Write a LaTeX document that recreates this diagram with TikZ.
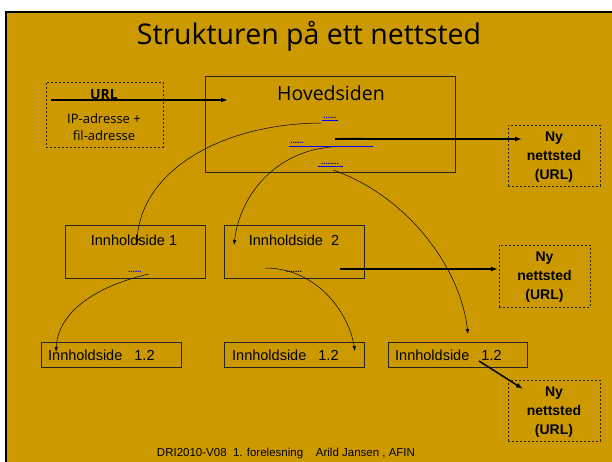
\documentclass[tikz,border=0pt]{standalone}
\usepackage{fontspec}
\setmainfont{Liberation Sans}
\newfontfamily\comic{Open Sans}
\usetikzlibrary{arrows.meta}
\definecolor{slidebg}{RGB}{204,153,0}
\definecolor{linkblue}{RGB}{0,0,255}
\begin{document}
\begin{tikzpicture}[x=1pt,y=-1pt,
  box/.style={draw=black!85, line width=0.8pt, rectangle, inner sep=0pt},
  dbox/.style={draw=black!85, dash pattern=on 2pt off 2pt, line width=0.8pt, rectangle, inner sep=0pt},
  nytxt/.style={inner sep=0pt, align=center, font=\fontsize{14}{19}\selectfont\bfseries},
  itxt/.style={inner sep=0pt, anchor=base, font=\fontsize{14.5}{17}\selectfont},
  stxt/.style={inner sep=0pt, anchor=base west, font=\fontsize{14.5}{17}\selectfont},
  ctxt/.style={inner sep=0pt, anchor=base, font=\comic\fontsize{13}{15}\selectfont},
  dots/.style={inner sep=0pt, anchor=base, font=\bfseries\fontsize{8}{9}\selectfont},
  link/.style={draw=linkblue, line width=1pt},
  bigarrow/.style={line width=1.5pt, -{Latex[length=7pt,width=5pt]}},
  curvearrow/.style={line width=0.5pt, -{Latex[length=5pt,width=3.5pt]}}
]
\useasboundingbox (0,0) rectangle (612,462);
\fill[white] (0,0) rectangle (612,462);
\fill[slidebg] (6,12) rectangle (612,462);
\draw[line width=2pt] (6,462) -- (6,12) -- (612,12);

% title
\node[inner sep=0pt, anchor=base, font=\comic\fontsize{28.5}{32}\selectfont] (title) at (309,45) {Strukturen på ett nettsted};

% URL box
\node[dbox, minimum width=117pt, minimum height=65pt] (urlbox) at (104.5,114.5) {};
\node[ctxt, font=\comic\bfseries\fontsize{14}{16}\selectfont] (url) at (104,100) {URL};
\node[ctxt] (ip) at (104,124) {IP-adresse +};
\node[ctxt] (fil) at (104,141) {fil-adresse};

% main page
\node[box, minimum width=250pt, minimum height=96pt] (hoved) at (330,124) {};
\node[inner sep=0pt, anchor=base, font=\comic\fontsize{19.5}{22}\selectfont] (hovedtxt) at (331,101) {Hovedsiden};

% links in main page
\node[dots, text=linkblue] (l1) at (330,119) {......};
\draw[link] (322,121) -- (338,121);
\node[dots, text=linkblue!60!black] (l2) at (297,144) {......};
\node[dots, text=linkblue!60!black] (l2b) at (352,140) {...........};
\draw[link] (289,146.5) -- (373,146.5);
\node[dots, text=linkblue!60!black] (l3) at (330,165) {........};
\draw[link] (318,167) -- (343,167);

% Ny nettsted boxes
\node[dbox, minimum width=92pt, minimum height=61pt] (ny1) at (554,155.5) {};
\node[nytxt] (ny1t) at (554,157) {Ny\\nettsted\\(URL)};
\node[dbox, minimum width=91pt, minimum height=62pt] (ny2) at (544.5,276) {};
\node[nytxt] (ny2t) at (544.5,277.5) {Ny\\nettsted\\(URL)};
\node[dbox, minimum width=92pt, minimum height=61pt] (ny3) at (554,410.5) {};
\node[nytxt] (ny3t) at (554,412) {Ny\\nettsted\\(URL)};

% content pages
\node[box, minimum width=140pt, minimum height=53pt] (inn1) at (135,251.5) {};
\node[itxt] (inn1t) at (134,245) {Innholdside 1};
\node[dots, text=linkblue] (d1) at (135,272) {......};
\node[box, minimum width=140pt, minimum height=53pt] (inn2) at (294,251.5) {};
\node[itxt] (inn2t) at (294,245) {Innholdside\ \ 2};
\node[dots] (d2) at (294,272) {.......};

\node[box, minimum width=140pt, minimum height=25pt] (sub1) at (111,354.5) {};
\node[stxt] (sub1t) at (48,360) {Innholdside\ \ \ 1.2};
\node[box, minimum width=140pt, minimum height=25pt] (sub2) at (294,354.5) {};
\node[stxt] (sub2t) at (232,360) {Innholdside\ \ \ 1.2};
\node[box, minimum width=139pt, minimum height=25pt] (sub3) at (457.5,354.5) {};
\node[stxt] (sub3t) at (395,360) {Innholdside\ \ \ 1.2};

% footer
\node[inner sep=0pt, anchor=base, font=\fontsize{11.5}{13}\selectfont] (foot) at (286,456) {DRI2010-V08\ \ 1. forelesning\ \ \ \ Arild Jansen , AFIN};

% connector end points
\coordinate (a1s) at (51,100);
\coordinate (a1e) at (228,100);
\coordinate (a2s) at (335,139);
\coordinate (a2e) at (522,139);
\coordinate (a3s) at (340,269);
\coordinate (a3e) at (498,269);
\coordinate (a4s) at (479,361);
\coordinate (a4e) at (523,389);
\coordinate (c1s) at (321,123);
\coordinate (c1e) at (137,244);
\coordinate (c2s) at (331,147);
\coordinate (c2e) at (234,245);
\coordinate (c3s) at (333,170);
\coordinate (c3e) at (468,334);
\coordinate (c4s) at (149,274);
\coordinate (c4e) at (56,352);
\coordinate (c5s) at (265,268);
\coordinate (c5e) at (355,351);

% straight arrows
\draw[bigarrow] (a1s) -- (a1e);
\draw[bigarrow] (a2s) -- (a2e);
\draw[bigarrow] (a3s) -- (a3e);
\draw[bigarrow] (a4s) -- (a4e);

% curved arrows
\draw[curvearrow] (c1s) .. controls (215,124) and (140,175) .. (c1e);
\draw[curvearrow] (c2s) .. controls (275,152) and (240,195) .. (c2e);
\draw[curvearrow] (c3s) .. controls (405,195) and (460,265) .. (c3e);
\draw[curvearrow] (c4s) .. controls (100,285) and (58,310) .. (c4e);
\draw[curvearrow] (c5s) .. controls (315,268) and (348,310) .. (c5e);
\end{tikzpicture}
\end{document}
